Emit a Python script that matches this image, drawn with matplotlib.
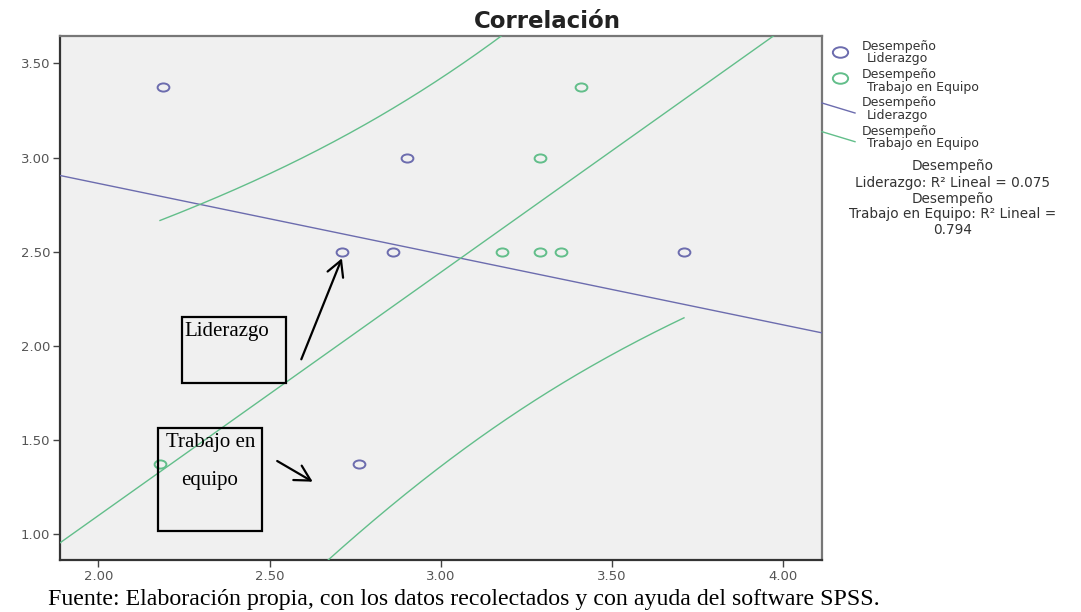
import numpy as np
import matplotlib
matplotlib.use("Agg")
import matplotlib.pyplot as plt
from matplotlib.path import Path
from matplotlib.transforms import Affine2D
from matplotlib.lines import Line2D
from matplotlib.patches import Rectangle, FancyArrowPatch

# ---------------- data ----------------
y_desempeno = [3.375, 3.0, 2.5, 2.5, 2.5, 1.375]
x_liderazgo = [2.19, 2.90, 2.71, 2.86, 3.71, 2.76]
x_trabajo = [3.41, 3.29, 3.18, 3.29, 3.35, 2.18]

x_ticks = [2.0, 2.5, 3.0, 3.5, 4.0]
x_tick_labels = ["2.00", "2.50", "3.00", "3.50", "4.00"]
y_ticks = [1.0, 1.5, 2.0, 2.5, 3.0, 3.5]
y_tick_labels = ["1.00", "1.50", "2.00", "2.50", "3.00", "3.50"]

series_names = [["Desempeño", "Liderazgo"], ["Desempeño", "Trabajo en Equipo"]]
r2_lines = ["Desempeño", "Liderazgo: R² Lineal = 0.075",
            "Desempeño", "Trabajo en Equipo: R² Lineal =", "0.794"]
title = "Correlación"
caption = "Fuente: Elaboración propia, con los datos recolectados y con ayuda del software SPSS."
box_labels = ["Liderazgo", ["Trabajo en", "equipo"]]

T_975_DF4 = 2.7764  # Student t quantile for 95% individual prediction interval

BLUE = "#6C6CAE"
GREEN = "#62BE8A"

# ---------------- figure ----------------
W, H = 1081, 612
fig = plt.figure(figsize=(W / 100, H / 100), dpi=100)


def fx(px):
    return px / W


def fy(py):
    return 1 - py / H


ax = fig.add_axes([fx(60), fy(560), fx(822) - fx(60), fy(36) - fy(560)])
ax.set_facecolor("#F0F0F0")
ax.set_xlim(1.888, 4.113)
ax.set_ylim(0.864, 3.645)

ell = Path.unit_circle().transformed(Affine2D().scale(1.45, 1.0))

xs_full = np.linspace(1.888, 4.113, 300)
all_x = x_liderazgo + x_trabajo
xs_int = np.linspace(min(all_x), max(all_x), 300)
yd = np.array(y_desempeno)

for xdata, color in [(x_liderazgo, BLUE), (x_trabajo, GREEN)]:
    xd = np.array(xdata)
    ax.plot(xd, yd, ls="none", marker=ell, ms=8.5, mfc="none", mec=color, mew=1.4, zorder=4)
    b, a = np.polyfit(xd, yd, 1)
    ax.plot(xs_full, a + b * xs_full, color=color, lw=1.0, zorder=3)
    n = len(xd)
    resid = yd - (a + b * xd)
    s = np.sqrt(np.sum(resid ** 2) / (n - 2))
    sxx = np.sum((xd - xd.mean()) ** 2)
    half = T_975_DF4 * s * np.sqrt(1 + 1 / n + (xs_int - xd.mean()) ** 2 / sxx)
    ax.plot(xs_int, a + b * xs_int + half, color=color, lw=1.0, zorder=3)
    ax.plot(xs_int, a + b * xs_int - half, color=color, lw=1.0, zorder=3)

ax.set_xticks(x_ticks)
ax.set_xticklabels(x_tick_labels)
ax.set_yticks(y_ticks)
ax.set_yticklabels(y_tick_labels)
ax.tick_params(axis="both", direction="out", length=5, width=1.0, color="#444444",
               labelcolor="#555555", labelsize=9.5, pad=2)
for side in ["left", "bottom"]:
    ax.spines[side].set_color("#333333")
    ax.spines[side].set_linewidth(1.6)
for side in ["top", "right"]:
    ax.spines[side].set_color("#777777")
    ax.spines[side].set_linewidth(1.6)

# ---------------- title ----------------
fig.text(fx(547), fy(28.5), title, ha="center", va="baseline", fontsize=16.5,
         fontweight="bold", color="#222222")

# ---------------- legend ----------------
LEG_FS = 9
LEG_COL = "#333333"
fig.add_artist(Line2D([fx(840)], [fy(51.7)], marker=ell, ms=11, mfc="none", mec=BLUE,
                      mew=1.4, transform=fig.transFigure))
fig.add_artist(Line2D([fx(840)], [fy(78.3)], marker=ell, ms=11, mfc="none", mec=GREEN,
                      mew=1.4, transform=fig.transFigure))
fig.add_artist(Line2D([fx(822), fx(855)], [fy(103), fy(113)], color=BLUE, lw=1.0,
                      transform=fig.transFigure))
fig.add_artist(Line2D([fx(822), fx(855)], [fy(131.7), fy(141.7)], color=GREEN, lw=1.0,
                      transform=fig.transFigure))

legend_rows = [(46.2, 58.8, series_names[0]), (74.5, 87.2, series_names[1]),
               (102.8, 115.5, series_names[0]), (131.2, 143.8, series_names[1])]
for y1, y2, (l1, l2) in legend_rows:
    fig.text(fx(861.7), fy(y1), l1, ha="left", va="center", fontsize=LEG_FS, color=LEG_COL)
    fig.text(fx(866.7), fy(y2), l2, ha="left", va="center", fontsize=LEG_FS, color=LEG_COL)

for yy, line in zip([165.7, 183.0, 199.0, 213.8, 230.0], r2_lines):
    fig.text(fx(953), fy(yy), line, ha="center", va="center", fontsize=9.8, color=LEG_COL)

# ---------------- annotation boxes and arrows ----------------
serif = ["Liberation Serif", "DejaVu Serif"]
fig.add_artist(Rectangle((fx(181.8), fy(383.3)), fx(285.8) - fx(181.8), fy(317.3) - fy(383.3),
                         fill=False, lw=1.6, ec="black", transform=fig.transFigure))
fig.text(fx(184.2), fy(331.7), box_labels[0], ha="left", va="center", fontsize=15,
         family=serif, color="black")
fig.add_artist(Rectangle((fx(158.4), fy(530.7)), fx(262.4) - fx(158.4), fy(427.7) - fy(530.7),
                         fill=False, lw=1.6, ec="black", transform=fig.transFigure))
fig.text(fx(210.4), fy(442.7), box_labels[1][0], ha="center", va="center", fontsize=15,
         family=serif, color="black")
fig.text(fx(210.0), fy(480.0), box_labels[1][1], ha="center", va="center", fontsize=15,
         family=serif, color="black")

for (xa, ya), (xb, yb) in [((301.3, 359.3), (341.9, 258.3)), ((277.2, 461.0), (312.7, 481.7))]:
    fig.add_artist(FancyArrowPatch((fx(xa), fy(ya)), (fx(xb), fy(yb)),
                                   arrowstyle="->,head_length=0.55,head_width=0.3",
                                   mutation_scale=20, lw=1.6, color="black",
                                   shrinkA=0, shrinkB=0, transform=fig.transFigure))

# ---------------- caption ----------------
fig.text(fx(48), fy(600), caption, ha="left", va="center", fontsize=17.2, family=serif,
         color="black")

fig.savefig("out.png", dpi=100, facecolor="white")
